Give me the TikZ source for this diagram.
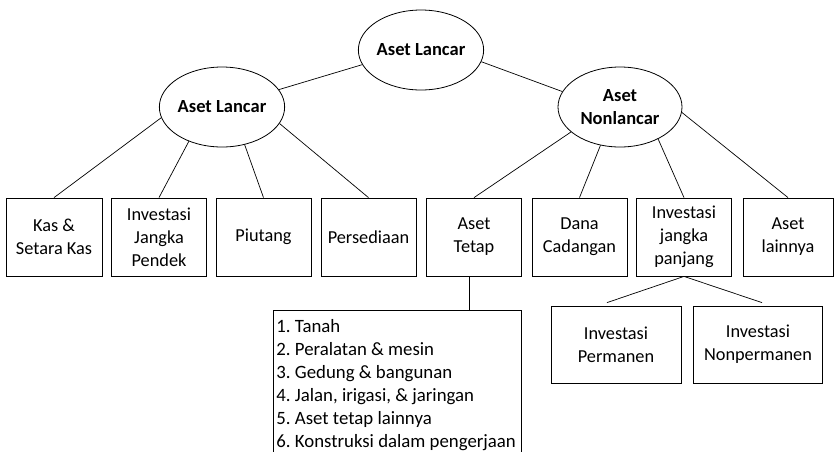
\documentclass[tikz,border=0pt]{standalone}
\usepackage{fontspec}
\setmainfont{Carlito}
\usetikzlibrary{shapes.geometric}
\newcommand{\hurufdaftar}{\fontsize{18.8}{23}\selectfont\frenchspacing\hyphenpenalty10000\relax}

\begin{document}
\begin{tikzpicture}[x=1pt,y=-1pt,
  txt/.style={font=\fontsize{18.3}{23}\selectfont},
  oval/.style={draw,ellipse,line width=0.8pt,inner sep=0pt,minimum width=124pt,minimum height=80pt,align=center,font=\fontsize{18.5}{23}\selectfont\bfseries},
  kotak/.style={txt,draw,rectangle,line width=0.8pt,inner sep=0pt,minimum height=78pt,align=center},
  daftar/.style={draw,rectangle,line width=0.8pt,inner xsep=3pt,inner ysep=9pt,text width=242pt,align=flush left,font=\hurufdaftar},
  garis/.style={line width=0.7pt}]

% Fix the picture size
\useasboundingbox (0,0) rectangle (834,451);

% Ellipses at the top
\node[oval] (puncak) at (421,50) {Aset Lancar};
\node[oval] (lancar) at (222,107) {Aset Lancar};
\node[oval] (nonlancar) at (620,107) {Aset\\Nonlancar};

% Row of boxes
\node[kotak,minimum width=96pt] (kas) at (54,237) {Kas \&\\Setara Kas};
\node[kotak,minimum width=95pt] (ijp) at (159,237) {Investasi\\Jangka\\Pendek};
\node[kotak,minimum width=95pt] (piutang) at (263.5,237) {Piutang};
\node[kotak,minimum width=95pt] (sedia) at (368.5,237) {Persediaan};
\node[kotak,minimum width=95pt] (tetap) at (474,237) {Aset\\Tetap};
\node[kotak,minimum width=95pt] (dana) at (579.5,237) {Dana\\Cadangan};
\node[kotak,minimum width=95pt] (ijpj) at (684,237) {Investasi\\jangka\\panjang};
\node[kotak,minimum width=90pt] (lain) at (788,237) {Aset\\lainnya};

% List of fixed assets
\node[daftar,anchor=north west] (rincian) at (273,310) {1. Tanah\\2. Peralatan \& mesin\\3. Gedung \& bangunan\\4. Jalan, irigasi, \& jaringan\\5. Aset tetap lainnya\\6. Konstruksi dalam pengerjaan};

% Long-term investment boxes
\node[kotak,minimum width=130pt,minimum height=77pt] (permanen) at (616,344.5) {Investasi\\Permanen};
\node[kotak,minimum width=129pt,minimum height=77pt] (nonpermanen) at (758,344.5) {Investasi\\Nonpermanen};

% Lines from the top ellipse
\draw[garis] (puncak.194) -- (lancar.17);
\draw[garis] (puncak.349) -- (nonlancar.165);

% Lines from Aset Lancar
\draw[garis] (lancar.190) -- (kas.north);
\draw[garis] (lancar.226) -- (ijp.north);
\draw[garis] (lancar.301) -- (piutang.north);
\draw[garis] (lancar.344) -- (sedia.north);

% Lines from Aset Nonlancar
\draw[garis] (nonlancar.207) -- (tetap.north);
\draw[garis] (nonlancar.243) -- (dana.north);
\draw[garis] (nonlancar.320) -- (ijpj.north);
\draw[garis] (nonlancar.355) -- (lain.north);

% Lines below the boxes
\draw[garis] ([xshift=-5pt]tetap.south) -- ([xshift=-5pt]tetap.south |- rincian.north);
\draw[garis] (ijpj.south) -- ([xshift=-9pt,yshift=3pt]permanen.north);
\draw[garis] (ijpj.south) -- ([xshift=4pt,yshift=3pt]nonpermanen.north);

\end{tikzpicture}
\end{document}
